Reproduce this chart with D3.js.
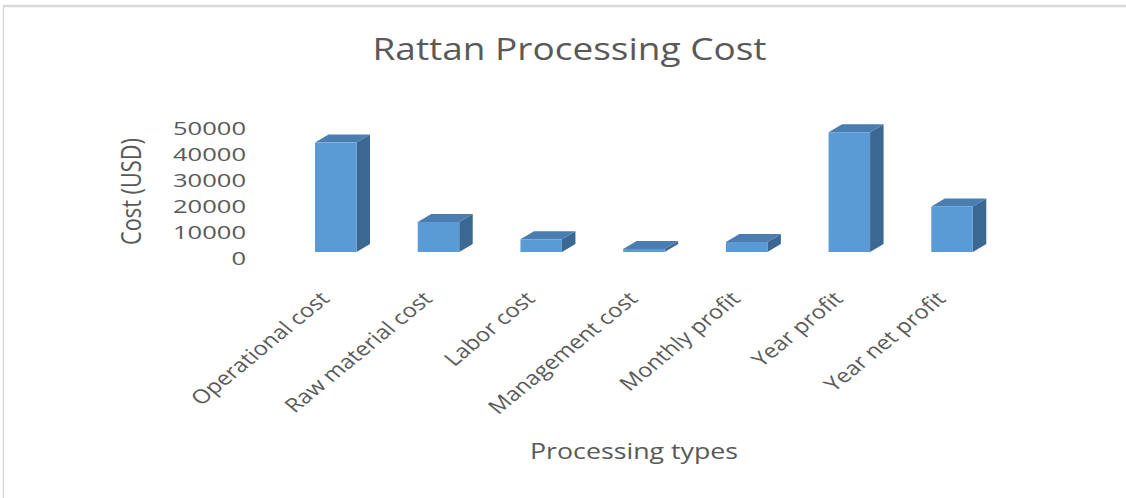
<!DOCTYPE html>
<html>
<head>
<meta charset="utf-8">
<script src="https://cdn.jsdelivr.net/npm/d3@7/dist/d3.min.js"></script>
<style>
  html, body { margin: 0; padding: 0; background: #ffffff; }
  svg { display: block; }
  text { font-family: "Open Sans", sans-serif; fill: #595959; }
</style>
</head>
<body>
<svg id="chart" width="1126" height="498"></svg>
<script>
// ---- data ----
const categories = ["Operational cost", "Raw material cost", "Labor cost", "Management cost",
                    "Monthly profit", "Year profit", "Year net profit"];
const costValues = [42200, 11600, 4900, 1200, 3850, 46200, 17600];
const tickValues = [0, 10000, 20000, 30000, 40000, 50000];
const chartTitle = "Rattan Processing Cost";
const yTitle = "Cost (USD)";
const xTitle = "Processing types";

// ---- layout ----
const W = 1126, H = 498;
const svg = d3.select("#chart");
const baseY = 252;          // front baseline of 3D bars
const depthX = 13.5, depthY = -8;
const stretch = 1.28;       // horizontal stretch of the original rendering
const labelStretch = 1.22;

const colFront = "#5b9bd5", colTop = "#4a7db0", colSide = "#3b6793";

// border (top & left visible)
svg.append("line").attr("x1", 3).attr("x2", W).attr("y1", 6).attr("y2", 6)
  .attr("stroke", "#d9d9d9").attr("stroke-width", 2.5);
svg.append("line").attr("x1", 3.5).attr("x2", 3.5).attr("y1", 5).attr("y2", H)
  .attr("stroke", "#d9d9d9").attr("stroke-width", 1.5);

const x = d3.scaleBand().domain(categories).range([284.4, 1003.4])
  .paddingInner(0.596).paddingOuter(0.298);
const y = d3.scaleLinear().domain([0, 50000]).range([258.3, 128.7]);

// title
svg.append("text").attr("x", 372.5).attr("y", 60)
  .attr("font-size", 31).attr("textLength", 394).attr("lengthAdjust", "spacingAndGlyphs")
  .text(chartTitle);

// y tick labels
svg.append("g").selectAll("text").data(tickValues).join("text")
  .attr("x", 246).attr("y", d => y(d)).attr("dy", "0.36em")
  .attr("text-anchor", "end").attr("font-size", 18)
  .attr("textLength", d => 14.6 * String(d).length).attr("lengthAdjust", "spacingAndGlyphs")
  .text(d => d);

// y title
svg.append("text")
  .attr("transform", `translate(141,191.5) scale(${stretch},1) rotate(-90)`)
  .attr("text-anchor", "middle").attr("font-size", 21)
  .attr("textLength", 107).attr("lengthAdjust", "spacingAndGlyphs")
  .text(yTitle);

// bars
const bars = svg.append("g").selectAll("g").data(categories.map((c, i) => ({c, v: costValues[i]})))
  .join("g");
bars.each(function(d) {
  const g = d3.select(this);
  const x0 = x(d.c), w = x.bandwidth();
  const h = y(0) - y(d.v);
  const top = baseY - h;
  g.append("path").attr("fill", colSide)
    .attr("d", `M${x0 + w},${top} L${x0 + w + depthX},${top + depthY} L${x0 + w + depthX},${baseY + depthY} L${x0 + w},${baseY} Z`);
  g.append("path").attr("fill", colTop)
    .attr("d", `M${x0},${top} L${x0 + depthX},${top + depthY} L${x0 + w + depthX},${top + depthY} L${x0 + w},${top} Z`);
  g.append("rect").attr("x", x0).attr("y", top).attr("width", w).attr("height", h)
    .attr("fill", colFront);
});

// category labels
svg.append("g").selectAll("text").data(categories).join("text")
  .attr("transform", d => `translate(${x(d) + x.bandwidth() / 2 - 5},300) scale(${labelStretch},1) rotate(-45)`)
  .attr("text-anchor", "end").attr("font-size", 19.5)
  .text(d => d);

// x title
svg.append("text").attr("x", 530).attr("y", 459)
  .attr("font-size", 22).attr("textLength", 208).attr("lengthAdjust", "spacingAndGlyphs")
  .text(xTitle);
</script>
</body>
</html>
